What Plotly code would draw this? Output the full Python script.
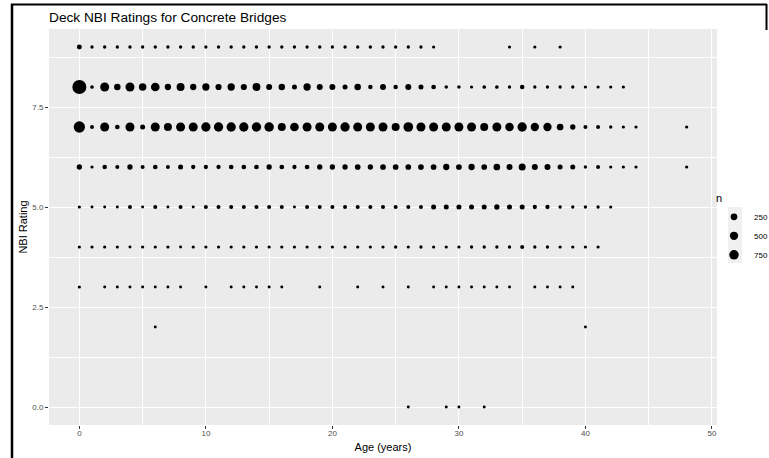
import numpy as np
import plotly.graph_objects as go

# ---------------- data ----------------
title_text = "Deck NBI Ratings for Concrete Bridges"
x_title = "Age (years)"
y_title = "NBI Rating"
legend_title = "n"
x_tick_vals = [0, 10, 20, 30, 40, 50]
x_tick_text = ["0", "10", "20", "30", "40", "50"]
y_tick_vals = [0.0, 2.5, 5.0, 7.5]
y_tick_text = ["0.0", "2.5", "5.0", "7.5"]
legend_breaks = [250, 500, 750]

ages_9 = list(range(0, 29)) + [34, 36, 38]
n_9 = [70, 3, 4, 3, 4, 3, 4, 4, 3, 4, 3, 3, 4, 3, 4, 4, 3, 4, 3, 4,
       3, 4, 3, 4, 3, 3, 3, 3, 2, 2, 2, 2]

ages_8 = list(range(0, 44))
n_8 = [2150, 10, 640, 220, 640, 360, 577, 196, 444, 196,
       330, 185, 330, 185, 410, 162, 220, 74, 330, 162,
       162, 74, 220, 43, 162, 43, 162, 74, 54, 6,
       6, 2, 10, 10, 3, 43, 3, 3, 3, 3,
       2, 2, 2, 2]

ages_7 = list(range(0, 45)) + [48]
n_7 = [1210, 20, 640, 54, 640, 74, 640, 444, 640, 640,
       704, 704, 704, 704, 725, 749, 444, 577, 640, 640,
       640, 704, 640, 640, 640, 444, 796, 640, 640, 640,
       640, 640, 444, 640, 538, 704, 500, 500, 246, 97,
       20, 20, 3, 2, 2, 2]

ages_6 = list(range(0, 45)) + [48]
n_6 = [97, 2, 43, 20, 97, 20, 54, 20, 74, 32,
       32, 32, 54, 54, 54, 97, 54, 32, 54, 97,
       97, 97, 132, 97, 132, 132, 132, 132, 132, 196,
       132, 196, 132, 246, 162, 287, 162, 162, 74, 74,
       3, 20, 2, 2, 2, 2]

ages_5 = list(range(0, 43))
n_5 = [2, 1, 1, 1, 20, 1, 20, 1, 20, 1,
       20, 20, 20, 20, 20, 20, 20, 1, 20, 20,
       20, 20, 20, 20, 20, 20, 20, 20, 74, 74,
       74, 74, 74, 97, 74, 74, 32, 32, 3, 3,
       3, 3, 2]

ages_4 = list(range(0, 42))
n_4 = [2, 2, 2, 2, 1, 2, 2, 2, 1, 2,
       2, 2, 2, 2, 2, 2, 2, 2, 2, 2,
       2, 2, 2, 2, 2, 3, 2, 3, 2, 2,
       2, 3, 3, 3, 3, 20, 3, 3, 2, 2,
       2, 2]

ages_3 = [0, 2, 3, 4, 5, 6, 7, 8, 10, 12, 13, 14, 15, 16, 19, 22, 24, 26,
          28, 29, 30, 31, 32, 33, 34, 36, 37, 38, 39]
n_3 = [2, 1, 1, 1, 1, 1, 1, 1, 1, 1, 1, 1, 1, 1, 1, 1, 1, 1,
       1, 1, 1, 1, 1, 1, 1, 1, 1, 1, 1]

ages_2 = [6, 40]
n_2 = [1, 1]

ages_0 = [26, 29, 30, 32]
n_0 = [1, 1, 1, 1]

rating_rows = [
    (9, ages_9, n_9), (8, ages_8, n_8), (7, ages_7, n_7), (6, ages_6, n_6),
    (5, ages_5, n_5), (4, ages_4, n_4), (3, ages_3, n_3), (2, ages_2, n_2),
    (0, ages_0, n_0),
]

# ---------------- build ----------------
ages, ratings, counts = [], [], []
for r, a, n in rating_rows:
    ages += list(a)
    ratings += [r] * len(a)
    counts += list(n)
counts = np.array(counts, dtype=float)
n_min, n_max = counts.min(), counts.max()


def size_scale(n):
    # ggplot-like area scale: size range 1..6, area proportional
    n = np.asarray(n, dtype=float)
    s = 1 + 5 * np.sqrt((n - n_min) / (n_max - n_min))
    return 0.78 * (2.845 * s + 0.945)


FONT = "Liberation Sans, Arial, sans-serif"

fig = go.Figure()
fig.add_trace(go.Scatter(
    x=ages, y=ratings, mode="markers",
    marker=dict(color="black", size=size_scale(counts), opacity=1, line=dict(width=0)),
    showlegend=False, hoverinfo="x+y+text", text=[f"n={int(c)}" for c in counts],
))
for b in legend_breaks:
    fig.add_trace(go.Scatter(
        x=[None], y=[None], mode="markers", name=str(b),
        marker=dict(color="black", size=float(size_scale(b)), opacity=1, line=dict(width=0)),
        showlegend=True,
    ))

W, H = 769, 458
ML, MR, MT, MB = 49, 52, 29, 33
PW, PH = W - ML - MR, H - MT - MB


def px_x(p):
    return (p - ML) / PW


def px_y(p):
    return (H - MB - p) / PH


axis_common = dict(
    showgrid=True, gridcolor="white", gridwidth=1.1,
    zeroline=False, showline=False, automargin=False,
    ticks="outside", ticklen=3, tickwidth=1, tickcolor="#333333",
    tickfont=dict(family=FONT, size=8, color="#4D4D4D"),
)

fig.update_layout(
    width=W, height=H,
    margin=dict(l=ML, r=MR, t=MT, b=MB, autoexpand=False),
    paper_bgcolor="white", plot_bgcolor="#EBEBEB",
    font=dict(family=FONT, color="black"),
    title=dict(text=title_text, x=ML / W, xref="container", xanchor="left",
               y=1 - 17.5 / H, yref="container", yanchor="middle",
               font=dict(family=FONT, size=13.7, color="black")),
    xaxis=dict(range=[-2.4, 50.4], tickvals=x_tick_vals, ticktext=x_tick_text,
               ticklabelstandoff=-3,
               minor=dict(showgrid=True, gridcolor="white", gridwidth=0.5,
                          tickvals=[5, 15, 25, 35, 45], ticks=""),
               title=dict(text=x_title, font=dict(family=FONT, size=11, color="black"),
                          standoff=6),
               **axis_common),
    yaxis=dict(range=[-0.45, 9.45], tickvals=y_tick_vals, ticktext=y_tick_text,
               minor=dict(showgrid=True, gridcolor="white", gridwidth=0.5,
                          tickvals=[1.25, 3.75, 6.25, 8.75], ticks=""),
               title=dict(text=y_title, font=dict(family=FONT, size=11, color="black"),
                          standoff=2),
               **axis_common),
    legend=dict(title=dict(text=legend_title, font=dict(family=FONT, size=11, color="black")),
                font=dict(family=FONT, size=8, color="black"),
                x=px_x(714), xanchor="left", y=px_y(188), yanchor="top",
                bgcolor="rgba(0,0,0,0)", tracegroupgap=0, itemsizing="trace"),
    shapes=[
        dict(type="rect", xref="paper", yref="paper",
             x0=px_x(728), x1=px_x(742), y0=px_y(263), y1=px_y(207),
             fillcolor="#F0F0F0", line=dict(width=0), layer="below"),
        dict(type="line", xref="paper", yref="paper",
             x0=px_x(12), x1=px_x(12), y0=px_y(4), y1=px_y(H + 2),
             line=dict(color="black", width=2.5)),
        dict(type="line", xref="paper", yref="paper",
             x0=px_x(11), x1=px_x(767), y0=px_y(4.5), y1=px_y(4.5),
             line=dict(color="black", width=2)),
        dict(type="line", xref="paper", yref="paper",
             x0=px_x(766.5), x1=px_x(766.5), y0=px_y(4), y1=px_y(30),
             line=dict(color="black", width=2)),
    ],
)

fig.write_html("out.html",
               config={"displayModeBar": False},
               post_script="document.body.style.margin='0px';"
                           "document.body.style.overflow='hidden';")
